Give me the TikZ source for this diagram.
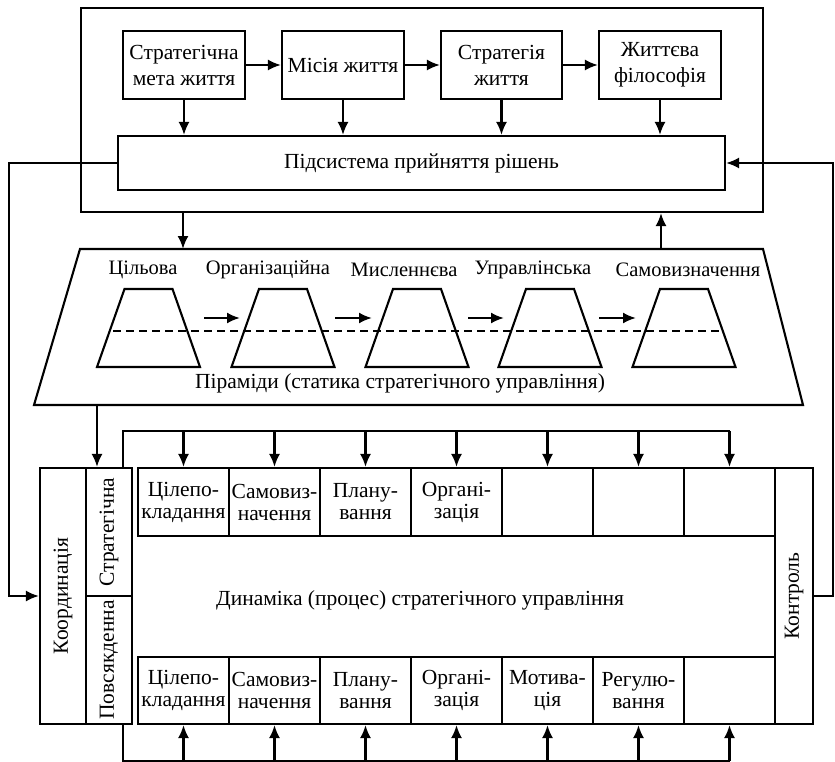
\documentclass[tikz,border=0pt]{standalone}
\usepackage{fontspec}
\setmainfont{Liberation Serif}
\usetikzlibrary{arrows.meta}
\begin{document}
\begin{tikzpicture}[x=1pt,y=-1pt,line width=2.1pt,
  box/.style={draw,rectangle,inner sep=0pt,align=center},
  topbox/.style={box,minimum height=68,font=\fontsize{21.5}{26}\selectfont},
  arr/.style={-{Latex[length=13pt,width=11pt]}},
  lbl/.style={inner sep=0pt,align=center},
  plbl/.style={lbl,font=\fontsize{20.5}{22}\selectfont},
  font=\fontsize{21.5}{22}\selectfont]
\useasboundingbox (0,0) rectangle (835,762);
% top system
\node[box,minimum width=682,minimum height=204] (outer) at (422,110) {};
\node[topbox,minimum width=122] (b1) at (184,65) {Стратегічна\\мета життя};
\node[topbox,minimum width=122] (b2) at (343,65) {Місія життя};
\node[topbox,minimum width=121] (b3) at (501.5,65) {Стратегія\\життя};
\node[topbox,minimum width=122] (b4) at (660,65) {Життєва\\філософія};
\node[box,minimum width=607,minimum height=54] (dec) at (421.5,163) {Підсистема прийняття рішень};
\draw[arr] (b1) -- (b2);
\draw[arr] (b2) -- (b3);
\draw[arr] (b3) -- (b4);
\foreach \b in {b1,b2,b3,b4} \draw[arr] (\b.south) -- (\b.south |- dec.north);
% pyramids
\coordinate (pyrA) at (183,249);
\coordinate (pyrB) at (661,249);
\coordinate (pyrC) at (97,405);
\draw (80,249) -- (763,249) -- (803,405) -- (34,405) -- cycle;
\draw[arr] (outer.south -| pyrA) -- (pyrA);
\draw[arr] (pyrB) -- (outer.south -| pyrB);
\foreach \c in {148.5,283,417,550,684}{
  \draw (\c-24,289) -- (\c+24,289) -- (\c+51.5,367) -- (\c-51.5,367) -- cycle;
}
\node[plbl] (l1) at (143,270) {Цільова};
\node[plbl] (l2) at (268,270) {Організаційна};
\node[plbl] (l3) at (404,270) {Мисленнєва};
\node[plbl] (l4) at (533,270) {Управлінська};
\node[plbl] (l5) at (688,270) {Самовизначення};
\draw[dash pattern=on 8pt off 5pt] (113,331) -- (722,331);
\foreach \a/\b in {204/240,335/372,468/504,599/636}{
  \coordinate (pa) at (\a,318); \coordinate (pb) at (\b,318);
  \draw[arr] (pa) -- (pb);
}
\node[lbl] (pcap) at (400,383) {Піраміди (статика стратегічного управління)};
% dynamics
\node[box,rotate=90,minimum width=256,minimum height=46] (koord) at (63,596) {Координація};
\node[box,rotate=90,minimum width=128,minimum height=46] (strat) at (109,532) {Стратегічна};
\node[box,rotate=90,minimum width=128,minimum height=46] (povs) at (109,660) {Повсякденна};
\node[box,rotate=90,minimum width=256,minimum height=38] (kontr) at (794,596) {Контроль};
\foreach \i/\t in {1/{Цілепо-\\кладання},2/{Самовиз-\\начення},3/{Плану-\\вання},4/{Органі-\\зація},5/{},6/{},7/{}}{
  \node[box,minimum width=91,minimum height=68] (t\i) at (92.5+91*\i,502) {\t};
}
\foreach \i/\t in {1/{Цілепо-\\кладання},2/{Самовиз-\\начення},3/{Плану-\\вання},4/{Органі-\\зація},5/{Мотива-\\ція},6/{Регулю-\\вання},7/{}}{
  \node[box,minimum width=91,minimum height=67] (u\i) at (92.5+91*\i,690.5) {\t};
}
\node[lbl] (dyn) at (420,600) {Динаміка (процес) стратегічного управління};
\draw[arr] (pyrC) -- (pyrC |- strat.east);
\coordinate (dt) at (123,431);
\coordinate (db) at (123,761);
\draw (dt |- strat.east) -- (dt) -- (t7.north |- dt);
\draw (db |- povs.west) -- (db) -- (u7.south |- db);
\foreach \i in {1,...,7}{
  \draw[arr] (t\i.north |- dt) -- (t\i.north);
  \draw[arr] (u\i.south |- db) -- (u\i.south);
}
% feedback loops
\draw[arr] (dec.west) -- (9,163) -- (9,596) -- (koord.north);
\draw[arr] (kontr.south) -- (833,596) -- (833,163) -- (dec.east);
\end{tikzpicture}
\end{document}
